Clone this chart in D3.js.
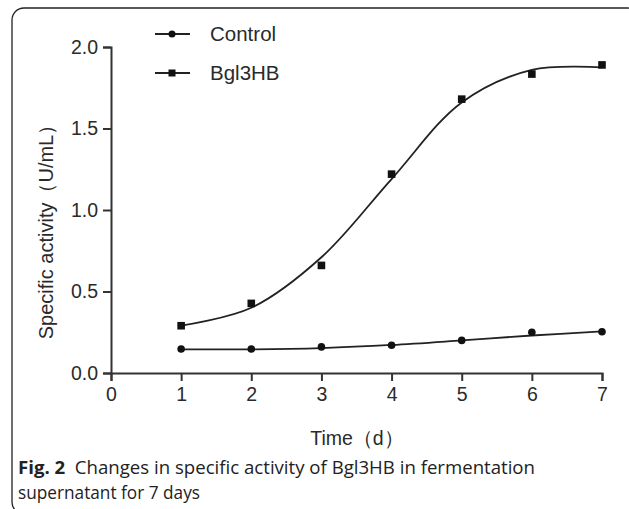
<!DOCTYPE html>
<html>
<head>
<meta charset="utf-8">
<script src="https://cdn.jsdelivr.net/npm/d3@7"></script>
<style>
  body { margin: 0; background: #fff; }
  svg { display: block; }
</style>
</head>
<body>
<div id="chart"></div>
<script>
// data
var days = [1, 2, 3, 4, 5, 6, 7];
var control = [0.147, 0.147, 0.16, 0.17, 0.20, 0.25, 0.253];
var bgl3hb = [0.29, 0.427, 0.66, 1.22, 1.68, 1.834, 1.89];
// fitted curves (read at each day)
var controlFit = [0.145, 0.145, 0.153, 0.172, 0.200, 0.230, 0.255];
var bgl3hbFit = [0.29, 0.40, 0.71, 1.19, 1.66, 1.86, 1.875];
var xTicks = [0, 1, 2, 3, 4, 5, 6, 7];
var yTicks = [0.0, 0.5, 1.0, 1.5, 2.0];

var w = 629, h = 509;
var font = "'Liberation Sans', Arial, sans-serif";

var svg = d3.select("#chart").append("svg")
    .attr("width", w)
    .attr("height", h);

// outer frame (partly cropped)
svg.append("rect")
    .attr("x", 12).attr("y", 8)
    .attr("width", 628).attr("height", 506)
    .attr("rx", 12)
    .style("fill", "none")
    .style("stroke", "#222")
    .style("stroke-width", 1.3);

var x = d3.scaleLinear().domain([0, 7]).range([111, 602]);
var y = d3.scaleLinear().domain([0, 2]).range([373, 47]);

var xAxis = svg.append("g")
    .attr("transform", "translate(0,373)")
    .call(d3.axisBottom(x).tickValues(xTicks).tickFormat(d3.format("d")).tickSizeOuter(0).tickSize(8).tickPadding(6));

var yAxis = svg.append("g")
    .attr("transform", "translate(111,0)")
    .call(d3.axisLeft(y).tickValues(yTicks).tickFormat(d3.format(".1f")).tickSizeOuter(0).tickSize(8).tickPadding(5));

[xAxis, yAxis].forEach(function(a){
    a.selectAll("path, line").style("stroke", "#333").style("stroke-width", 2);
    a.selectAll("text")
        .style("font-family", font)
        .style("font-size", "19.5px")
        .style("fill", "#2a2a2a");
});

// axis titles
svg.append("text")
    .attr("transform", "translate(53,227) rotate(-90)")
    .attr("text-anchor", "middle")
    .style("font-family", font)
    .style("font-size", "20px")
    .style("fill", "#2a2a2a")
    .text("Specific activity（U/mL）");

svg.append("text")
    .attr("x", 357).attr("y", 445)
    .attr("text-anchor", "middle")
    .style("font-family", font)
    .style("font-size", "19.5px")
    .style("fill", "#2a2a2a")
    .text("Time（d）");

var line = d3.line()
    .x(function(d){ return x(d[0]); })
    .y(function(d){ return y(d[1]); })
    .curve(d3.curveCatmullRom);

function pairs(vals) {
    return days.map(function(d, i){ return [d, vals[i]]; });
}

[controlFit, bgl3hbFit].forEach(function(f){
    svg.append("path")
        .datum(pairs(f))
        .attr("d", line)
        .style("fill", "none")
        .style("stroke", "#222")
        .style("stroke-width", 1.8);
});

svg.selectAll(".dot")
    .data(pairs(control))
    .enter().append("circle")
    .attr("class", "dot")
    .attr("cx", function(d){ return x(d[0]); })
    .attr("cy", function(d){ return y(d[1]); })
    .attr("r", 3.8)
    .style("fill", "#111");

svg.selectAll(".sq")
    .data(pairs(bgl3hb))
    .enter().append("rect")
    .attr("class", "sq")
    .attr("x", function(d){ return x(d[0]) - 3.8; })
    .attr("y", function(d){ return y(d[1]) - 3.8; })
    .attr("width", 7.6).attr("height", 7.6)
    .style("fill", "#111");

// legend
var legend = [
    {name: "Control", shape: "circle", y: 34},
    {name: "Bgl3HB", shape: "square", y: 73}
];
legend.forEach(function(l){
    svg.append("line")
        .attr("x1", 155).attr("x2", 190)
        .attr("y1", l.y).attr("y2", l.y)
        .style("stroke", "#222").style("stroke-width", 1.8);
    if (l.shape == "circle") {
        svg.append("circle").attr("cx", 172).attr("cy", l.y).attr("r", 3.5).style("fill", "#111");
    } else {
        svg.append("rect").attr("x", 168.5).attr("y", l.y - 3.5).attr("width", 7).attr("height", 7).style("fill", "#111");
    }
    svg.append("text")
        .attr("x", 210).attr("y", l.y)
        .attr("dy", "0.35em")
        .style("font-family", font)
        .style("font-size", "20.5px")
        .style("fill", "#2a2a2a")
        .text(l.name);
});

// caption
var cap = svg.append("text")
    .attr("x", 18).attr("y", 474)
    .attr("textLength", 517)
    .attr("lengthAdjust", "spacingAndGlyphs")
    .style("white-space", "pre")
    .style("font-family", "'Open Sans', sans-serif")
    .style("font-size", "17.5px")
    .style("fill", "#222");
cap.append("tspan").style("font-weight", "bold").text("Fig. 2");
cap.append("tspan").text("  Changes in specific activity of Bgl3HB in fermentation");

svg.append("text")
    .attr("x", 18).attr("y", 499)
    .attr("textLength", 182)
    .attr("lengthAdjust", "spacingAndGlyphs")
    .style("font-family", "'Open Sans', sans-serif")
    .style("font-size", "17.5px")
    .style("fill", "#222")
    .text("supernatant for 7 days");
</script>
</body>
</html>
